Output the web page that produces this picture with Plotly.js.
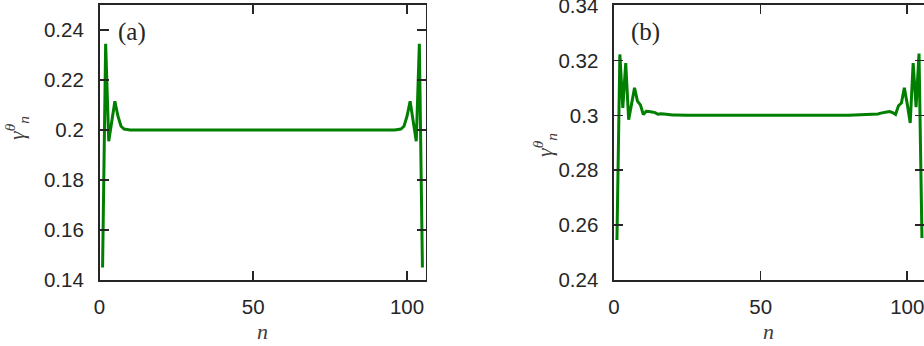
<!DOCTYPE html>
<html>
<head>
<meta charset="utf-8">
<script src="https://cdn.plot.ly/plotly-3.0.1.min.js"></script>
<style>html,body{margin:0;padding:0;background:#fff;}#chart{width:924px;height:346px;}</style>
</head>
<body>
<div id="chart"></div>
<script>
// Panel (a)
const nA = [1, 2, 3, 4, 5, 6, 7, 8, 9, 10, 96, 97, 98, 99, 100, 101, 102, 103, 104, 105];
const gammaA = [0.145, 0.2345, 0.1955, 0.2035, 0.2115, 0.2055, 0.2015, 0.2004, 0.2001, 0.2,
                0.2, 0.2001, 0.2004, 0.2015, 0.2055, 0.2115, 0.2035, 0.1955, 0.2345, 0.145];
// Panel (b)
const nB = [1, 2, 3, 4, 5, 6, 7, 8, 9, 10, 11, 12, 13, 14, 15, 16, 17, 18, 19, 20, 21, 25,
            80, 84, 86, 88, 89, 90, 91, 92, 93, 94, 95, 96, 97, 98, 99, 100, 101, 102, 103, 104, 105];
const gammaB = [0.2546, 0.3222, 0.3027, 0.3190, 0.2984, 0.3050, 0.3100, 0.3052, 0.3038, 0.3003,
                0.3015, 0.3014, 0.3012, 0.3010, 0.3004, 0.3006, 0.3005, 0.3003, 0.3002, 0.3001, 0.3001, 0.3000,
                0.3000, 0.3001, 0.3002, 0.3003, 0.3004, 0.3005, 0.3008, 0.3011, 0.3012, 0.3014, 0.3010, 0.3003,
                0.3035, 0.3045, 0.3100, 0.3040, 0.2972, 0.3190, 0.3030, 0.3225, 0.2553];
const xTicks = [0, 50, 100];
const yTicksA = [0.14, 0.16, 0.18, 0.2, 0.22, 0.24];
const yTicksB = [0.24, 0.26, 0.28, 0.3, 0.32, 0.34];

const W = 924, H = 346;
const ink = '#262626';
const lineColor = '#007f00';

const axisCommon = {
  showline: true, mirror: 'ticks', linecolor: ink, linewidth: 1.6,
  ticks: 'inside', ticklen: 9, tickwidth: 1.6, tickcolor: ink,
  showgrid: false, zeroline: false, ticklabeloverflow: 'allow',
  tickfont: {family: 'Liberation Sans, Arial, sans-serif', size: 20.5, color: ink},
  fixedrange: true
};

const traces = [
  {x: nA, y: gammaA, type: 'scatter', mode: 'lines', xaxis: 'x', yaxis: 'y',
   line: {color: lineColor, width: 3}, hoverinfo: 'skip'},
  {x: nB, y: gammaB, type: 'scatter', mode: 'lines', xaxis: 'x2', yaxis: 'y2',
   line: {color: lineColor, width: 3}, hoverinfo: 'skip'}
];

const serif = 'Liberation Serif';
const layout = {
  width: W, height: H,
  margin: {l: 0, r: 0, t: 5, b: 66},
  paper_bgcolor: '#fff', plot_bgcolor: '#fff',
  showlegend: false,
  xaxis: Object.assign({}, axisCommon, {domain: [99.5 / W, 425.5 / W], range: [0, 106],
    tickvals: xTicks, ticktext: xTicks.map(String), anchor: 'y', ticklabelstandoff: 8}),
  yaxis: Object.assign({}, axisCommon, {domain: [0, 1], range: [0.14, 0.25],
    tickvals: yTicksA, ticktext: yTicksA.map(String), anchor: 'x', ticklabelstandoff: 10}),
  xaxis2: Object.assign({}, axisCommon, {domain: [614 / W, 1], range: [0, 105.7],
    tickvals: xTicks, ticktext: xTicks.map(String), anchor: 'y2', ticklabelstandoff: 8}),
  yaxis2: Object.assign({}, axisCommon, {domain: [0, 1], range: [0.24, 0.3402],
    tickvals: yTicksB, ticktext: yTicksB.map(String), anchor: 'x2', ticklabelstandoff: 10}),
  annotations: [
    {text: '(a)', xref: 'paper', yref: 'paper', x: 116 / W, y: 1 - (32 - 5) / 275, xanchor: 'left', yanchor: 'middle',
     showarrow: false, font: {family: serif, size: 25, color: ink}},
    {text: '(b)', xref: 'paper', yref: 'paper', x: 629 / W, y: 1 - (32 - 5) / 275, xanchor: 'left', yanchor: 'middle',
     showarrow: false, font: {family: serif, size: 25, color: ink}},
    {text: '<i>γ</i><sup><i>θ</i></sup><sub><i>n</i></sub>', xref: 'paper', yref: 'paper', x: 16 / W, y: 1 - (128 - 5) / 275,
     xanchor: 'center', yanchor: 'middle', textangle: -90, showarrow: false,
     font: {family: serif, size: 22, color: '#404040'}},
    {text: '<i>γ</i><sup><i>θ</i></sup><sub><i>n</i></sub>', xref: 'paper', yref: 'paper', x: 545 / W, y: 1 - (145 - 5) / 275,
     xanchor: 'center', yanchor: 'middle', textangle: -90, showarrow: false,
     font: {family: serif, size: 22, color: '#404040'}},
    {text: '<i>n</i>', xref: 'paper', yref: 'paper', x: 262 / W, y: -(331 - 280) / 275,
     xanchor: 'center', yanchor: 'middle', showarrow: false,
     font: {family: serif, size: 22, color: '#404040'}},
    {text: '<i>n</i>', xref: 'paper', yref: 'paper', x: 768 / W, y: -(331 - 280) / 275,
     xanchor: 'center', yanchor: 'middle', showarrow: false,
     font: {family: serif, size: 22, color: '#404040'}}
  ]
};

Plotly.newPlot('chart', traces, layout, {staticPlot: true, displayModeBar: false});
</script>
</body>
</html>
